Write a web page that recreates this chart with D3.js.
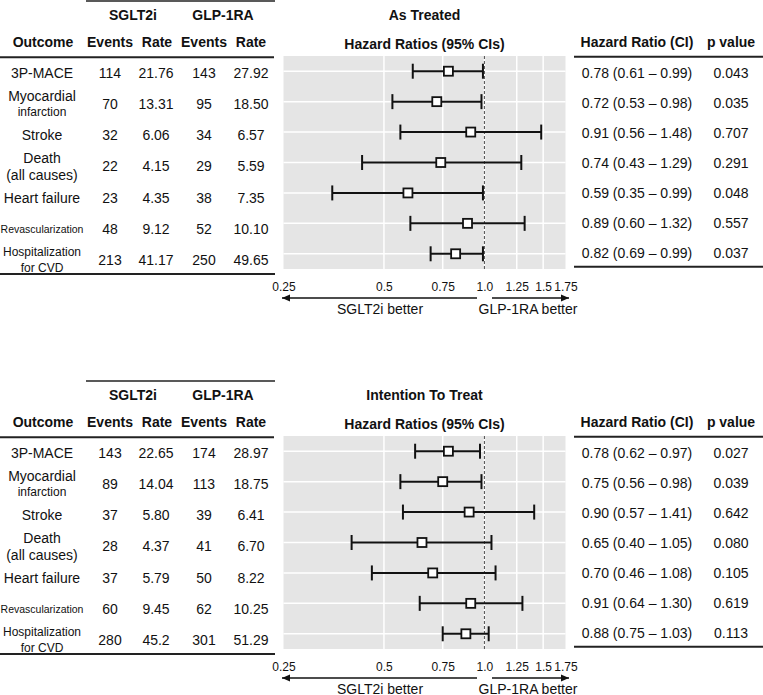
<!DOCTYPE html>
<html><head><meta charset="utf-8">
<script src="https://cdn.jsdelivr.net/npm/d3@7"></script>
<style>body{margin:0;background:#fff}svg{display:block}text{font-family:"Liberation Sans",Arial,sans-serif;fill:#111}</style>
</head><body>
<script>
// ---- data ----
const outcomes = ["3P-MACE", "Myocardial\ninfarction", "Stroke", "Death\n(all causes)", "Heart failure", "Revascularization", "Hospitalization\nfor CVD"];
const sectionTitles = ["As Treated", "Intention To Treat"];
const tickValues = [0.25, 0.5, 0.75, 1.0, 1.25, 1.5, 1.75];
const tickLabels = ["0.25", "0.5", "0.75", "1.0", "1.25", "1.5", "1.75"];

const atSgltEvents = ["114", "70", "32", "22", "23", "48", "213"];
const atSgltRate = ["21.76", "13.31", "6.06", "4.15", "4.35", "9.12", "41.17"];
const atGlpEvents = ["143", "95", "34", "29", "38", "52", "250"];
const atGlpRate = ["27.92", "18.50", "6.57", "5.59", "7.35", "10.10", "49.65"];
const atHR = [0.78, 0.72, 0.91, 0.74, 0.59, 0.89, 0.82];
const atLo = [0.61, 0.53, 0.56, 0.43, 0.35, 0.60, 0.69];
const atHi = [0.99, 0.98, 1.48, 1.29, 0.99, 1.32, 0.99];
const atP = ["0.043", "0.035", "0.707", "0.291", "0.048", "0.557", "0.037"];

const ittSgltEvents = ["143", "89", "37", "28", "37", "60", "280"];
const ittSgltRate = ["22.65", "14.04", "5.80", "4.37", "5.79", "9.45", "45.2"];
const ittGlpEvents = ["174", "113", "39", "41", "50", "62", "301"];
const ittGlpRate = ["28.97", "18.75", "6.41", "6.70", "8.22", "10.25", "51.29"];
const ittHR = [0.78, 0.75, 0.90, 0.65, 0.70, 0.91, 0.88];
const ittLo = [0.62, 0.56, 0.57, 0.40, 0.46, 0.64, 0.75];
const ittHi = [0.97, 0.98, 1.41, 1.05, 1.08, 1.30, 1.03];
const ittP = ["0.027", "0.039", "0.642", "0.080", "0.105", "0.619", "0.113"];

const sections = [
  {title: sectionTitles[0], se: atSgltEvents, sr: atSgltRate, ge: atGlpEvents, gr: atGlpRate, hr: atHR, lo: atLo, hi: atHi, p: atP},
  {title: sectionTitles[1], se: ittSgltEvents, sr: ittSgltRate, ge: ittGlpEvents, gr: ittGlpRate, hr: ittHR, lo: ittLo, hi: ittHi, p: ittP}
];

// per-line label font sizes (style)
const labelSizes = {"Revascularization": 10.5, "infarction": 12, "Hospitalization": 12, "for CVD": 12};

const W = 763, H = 695;
const svg = d3.select("body").append("svg").attr("width", W).attr("height", H);
const fmt = d3.format(".2f");
const x = d3.scaleLog().domain([0.25, 1.75]).range([283.5, 565.5]);

sections.forEach((s, si) => {
  const g = svg.append("g").attr("transform", `translate(0,${si * 380})`);
  const idx = d3.range(outcomes.length);

  // ---- left table ----
  const yL = d3.scalePoint().domain(idx).range([72.7, 260]);
  g.append("line").attr("x1", 86).attr("x2", 275).attr("y1", 1).attr("y2", 1).attr("stroke", "#222").attr("stroke-width", 1.6);
  g.append("line").attr("x1", 0).attr("x2", 274).attr("y1", 57.3).attr("y2", 57.3).attr("stroke", "#222").attr("stroke-width", 2);
  g.append("line").attr("x1", 0).attr("x2", 275).attr("y1", 274).attr("y2", 274).attr("stroke", "#222").attr("stroke-width", 2);
  const bold = (t, xx, yy) => g.append("text").attr("x", xx).attr("y", yy).attr("text-anchor", "middle").attr("dominant-baseline", "central").attr("font-size", 14).attr("font-weight", "bold").text(t);
  bold("SGLT2i", 133, 15);
  bold("GLP-1RA", 223, 15);
  bold("Outcome", 43, 41.7);
  bold("Events", 110, 41.7);
  bold("Rate", 157, 41.7);
  bold("Events", 204, 41.7);
  bold("Rate", 251, 41.7);

  const cols = [[s.se, 110], [s.sr, 156], [s.ge, 204], [s.gr, 251]];
  idx.forEach(i => {
    const lines = outcomes[i].split("\n");
    const t = g.append("text").attr("x", 42).attr("text-anchor", "middle").attr("dominant-baseline", "central");
    lines.forEach((ln, k) => {
      t.append("tspan").attr("x", 42).attr("y", yL(i) + (k - (lines.length - 1) / 2) * 16.5)
        .attr("font-size", labelSizes[ln] || 14).text(ln);
    });
    cols.forEach(([arr, cx]) => {
      g.append("text").attr("x", cx).attr("y", yL(i)).attr("text-anchor", "middle").attr("dominant-baseline", "central").attr("font-size", 14).text(arr[i]);
    });
  });

  // ---- forest panel ----
  const yP = d3.scaleBand().domain(idx).range([56, 269]).padding(0);
  const yc = i => yP(i) + yP.bandwidth() / 2;
  g.append("rect").attr("x", x(0.25)).attr("y", 56).attr("width", x(1.75) - x(0.25)).attr("height", 269 - 56).attr("fill", "#e5e5e5");
  g.selectAll(".vg").data(tickValues.filter(v => v > 0.25 && v < 1.75)).join("line")
    .attr("x1", d => x(d)).attr("x2", d => x(d)).attr("y1", 56).attr("y2", 269).attr("stroke", "#fff").attr("stroke-width", 1.5);
  g.selectAll(".hg").data(idx).join("line")
    .attr("x1", x(0.25)).attr("x2", x(1.75)).attr("y1", d => yc(d)).attr("y2", d => yc(d)).attr("stroke", "#fff").attr("stroke-width", 1.5);
  g.append("line").attr("x1", x(1)).attr("x2", x(1)).attr("y1", 56).attr("y2", 269).attr("stroke", "#333").attr("stroke-width", 0.9).attr("stroke-dasharray", "3,2");

  const eb = g.append("g");
  idx.forEach(i => {
    const yy = yc(i);
    eb.append("line").attr("x1", x(s.lo[i])).attr("x2", x(s.hi[i])).attr("y1", yy).attr("y2", yy).attr("stroke", "#111").attr("stroke-width", 2);
    [s.lo[i], s.hi[i]].forEach(v => eb.append("line").attr("x1", x(v)).attr("x2", x(v)).attr("y1", yy - 7.5).attr("y2", yy + 7.5).attr("stroke", "#111").attr("stroke-width", 2));
    eb.append("rect").attr("x", x(s.hr[i]) - 4.5).attr("y", yy - 4.5).attr("width", 9).attr("height", 9).attr("fill", "#fff").attr("stroke", "#111").attr("stroke-width", 1.8);
  });

  // titles
  bold(s.title, 424.5, 15);
  bold("Hazard Ratios (95% CIs)", 424.5, 44);

  // axis labels
  const ax = d3.axisBottom(x).tickValues(tickValues).tickFormat((d, k) => tickLabels[k]).tickSize(0).tickPadding(0);
  const axG = g.append("g").attr("transform", "translate(0,282)").call(ax);
  axG.select(".domain").remove();
  axG.selectAll("text").attr("font-size", 12).attr("fill", "#333").attr("font-family", "Liberation Sans, Arial, sans-serif").attr("dy", "0.71em");

  // arrows
  const arrow = (x1, x2) => {
    g.append("line").attr("x1", x1).attr("x2", x2).attr("y1", 298).attr("y2", 298).attr("stroke", "#111").attr("stroke-width", 1.3);
    const dir = x2 > x1 ? 1 : -1;
    g.append("path").attr("d", `M${x2},298 L${x2 - dir * 8},294.5 L${x2 - dir * 8},301.5 Z`).attr("fill", "#111");
  };
  arrow(477, 282);
  arrow(492, 569);
  g.append("text").attr("x", 380).attr("y", 308.5).attr("text-anchor", "middle").attr("dominant-baseline", "central").attr("font-size", 14).attr("fill", "#222").text("SGLT2i better");
  g.append("text").attr("x", 528).attr("y", 308.5).attr("text-anchor", "middle").attr("dominant-baseline", "central").attr("font-size", 14).attr("fill", "#222").text("GLP-1RA better");

  // ---- right table ----
  const yR = d3.scalePoint().domain(idx).range([72.7, 253]);
  bold("Hazard Ratio (CI)", 637, 41.7);
  bold("p value", 731, 41.7);
  g.append("line").attr("x1", 574).attr("x2", 763).attr("y1", 56.7).attr("y2", 56.7).attr("stroke", "#222").attr("stroke-width", 2);
  g.append("line").attr("x1", 574).attr("x2", 763).attr("y1", 266.7).attr("y2", 266.7).attr("stroke", "#222").attr("stroke-width", 2);
  idx.forEach(i => {
    g.append("text").attr("x", 637).attr("y", yR(i)).attr("text-anchor", "middle").attr("dominant-baseline", "central").attr("font-size", 14)
      .text(`${fmt(s.hr[i])} (${fmt(s.lo[i])} \u2013 ${fmt(s.hi[i])})`);
    g.append("text").attr("x", 731).attr("y", yR(i)).attr("text-anchor", "middle").attr("dominant-baseline", "central").attr("font-size", 14).text(s.p[i]);
  });
});
</script>
</body></html>
